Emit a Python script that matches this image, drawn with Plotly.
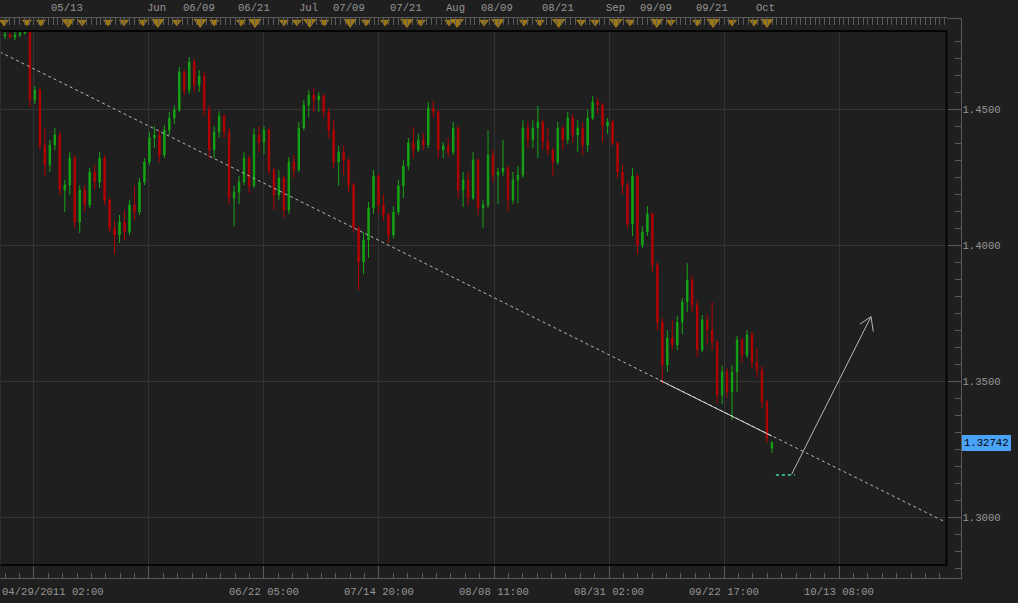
import plotly.graph_objects as go

# ---------------- data ----------------
opens = [
    1.4771, 1.4778, 1.4767, 1.4775, 1.4782, 1.4890, 1.4536, 1.4572, 1.4370, 1.4297,
    1.4370, 1.4407, 1.4205, 1.4223, 1.4322, 1.4087, 1.4205, 1.4150, 1.4271, 1.4234,
    1.4322, 1.4168, 1.4065, 1.4039, 1.4087, 1.4050, 1.4150, 1.4124, 1.4234, 1.4308,
    1.4396, 1.4407, 1.4333, 1.4425, 1.4469, 1.4499, 1.4639, 1.4572, 1.4675, 1.4591,
    1.4624, 1.4499, 1.4352, 1.4418, 1.4477, 1.4418, 1.4175, 1.4197, 1.4234, 1.4322,
    1.4220, 1.4407, 1.4381, 1.4425, 1.4278, 1.4186, 1.4249, 1.4131, 1.4308, 1.4278,
    1.4433, 1.4517, 1.4554, 1.4536, 1.4550, 1.4492, 1.4425, 1.4308, 1.4344, 1.4315,
    1.4223, 1.4065, 1.3940, 1.4021, 1.4139, 1.4256, 1.4150, 1.4113, 1.4039, 1.4124,
    1.4220, 1.4293, 1.4378, 1.4352, 1.4389, 1.4370, 1.4506, 1.4492, 1.4352, 1.4367,
    1.4344, 1.4433, 1.4205, 1.4242, 1.4175, 1.4315, 1.4139, 1.4150, 1.4333, 1.4260,
    1.4271, 1.4286, 1.4168, 1.4242, 1.4260, 1.4433, 1.4389, 1.4433, 1.4455, 1.4381,
    1.4352, 1.4308, 1.4433, 1.4389, 1.4469, 1.4407, 1.4433, 1.4370, 1.4469, 1.4528,
    1.4517, 1.4440, 1.4455, 1.4378, 1.4271, 1.4223, 1.4080, 1.4256, 1.4003, 1.4050,
    1.4117, 1.3929, 1.3719, 1.3561, 1.3661, 1.3635, 1.3719, 1.3793, 1.3874, 1.3782,
    1.3617, 1.3727, 1.3690, 1.3646, 1.3451, 1.3536, 1.3462, 1.3536, 1.3653, 1.3598,
    1.3672, 1.3572, 1.3543, 1.3425, 1.3256,
]
highs = [
    1.4786, 1.4782, 1.4786, 1.4793, 1.4935, 1.4905, 1.4587, 1.4580, 1.4433, 1.4389,
    1.4433, 1.4418, 1.4242, 1.4344, 1.4333, 1.4223, 1.4223, 1.4286, 1.4297, 1.4344,
    1.4333, 1.4175, 1.4094, 1.4113, 1.4131, 1.4168, 1.4220, 1.4249, 1.4322, 1.4418,
    1.4440, 1.4425, 1.4444, 1.4492, 1.4517, 1.4657, 1.4646, 1.4694, 1.4686, 1.4646,
    1.4639, 1.4517, 1.4440, 1.4495, 1.4484, 1.4433, 1.4220, 1.4256, 1.4344, 1.4330,
    1.4433, 1.4440, 1.4440, 1.4433, 1.4286, 1.4278, 1.4256, 1.4326, 1.4333, 1.4455,
    1.4536, 1.4572, 1.4580, 1.4565, 1.4558, 1.4506, 1.4462, 1.4367, 1.4367, 1.4322,
    1.4231, 1.4072, 1.4050, 1.4161, 1.4278, 1.4264, 1.4190, 1.4124, 1.4146, 1.4242,
    1.4315, 1.4396, 1.4436, 1.4411, 1.4414, 1.4528, 1.4532, 1.4499, 1.4381, 1.4396,
    1.4455, 1.4440, 1.4271, 1.4271, 1.4344, 1.4322, 1.4168, 1.4425, 1.4352, 1.4286,
    1.4389, 1.4293, 1.4271, 1.4293, 1.4462, 1.4455, 1.4462, 1.4514, 1.4462, 1.4433,
    1.4359, 1.4455, 1.4440, 1.4492, 1.4484, 1.4462, 1.4455, 1.4499, 1.4550, 1.4543,
    1.4525, 1.4469, 1.4462, 1.4385, 1.4300, 1.4234, 1.4286, 1.4264, 1.4072, 1.4146,
    1.4124, 1.3940, 1.3734, 1.3690, 1.3727, 1.3742, 1.3808, 1.3936, 1.3889, 1.3800,
    1.3745, 1.3749, 1.3793, 1.3653, 1.3558, 1.3550, 1.3561, 1.3668, 1.3661, 1.3690,
    1.3683, 1.3624, 1.3558, 1.3433, 1.3282,
]
lows = [
    1.4760, 1.4764, 1.4756, 1.4767, 1.4776, 1.4510, 1.4521, 1.4352, 1.4256, 1.4271,
    1.4352, 1.4186, 1.4124, 1.4186, 1.4065, 1.4047, 1.4124, 1.4139, 1.4205, 1.4212,
    1.4150, 1.4050, 1.3969, 1.4010, 1.4021, 1.4039, 1.4094, 1.4113, 1.4223, 1.4297,
    1.4359, 1.4308, 1.4322, 1.4407, 1.4447, 1.4492, 1.4554, 1.4558, 1.4565, 1.4565,
    1.4477, 1.4322, 1.4322, 1.4396, 1.4396, 1.4153, 1.4072, 1.4153, 1.4223, 1.4194,
    1.4212, 1.4344, 1.4337, 1.4260, 1.4131, 1.4168, 1.4102, 1.4117, 1.4249, 1.4271,
    1.4425, 1.4473, 1.4492, 1.4492, 1.4469, 1.4396, 1.4286, 1.4220, 1.4260, 1.4197,
    1.4050, 1.3837, 1.3896, 1.3955, 1.4117, 1.4117, 1.4091, 1.4010, 1.4028, 1.4113,
    1.4175, 1.4278, 1.4322, 1.4344, 1.4352, 1.4359, 1.4469, 1.4322, 1.4322, 1.4326,
    1.4333, 1.4175, 1.4142, 1.4146, 1.4168, 1.4113, 1.4065, 1.4139, 1.4234, 1.4153,
    1.4256, 1.4124, 1.4153, 1.4157, 1.4249, 1.4359, 1.4359, 1.4322, 1.4352, 1.4333,
    1.4256, 1.4297, 1.4352, 1.4374, 1.4378, 1.4344, 1.4333, 1.4344, 1.4462, 1.4484,
    1.4381, 1.4411, 1.4367, 1.4249, 1.4190, 1.4065, 1.4036, 1.3969, 1.3992, 1.4036,
    1.3903, 1.3690, 1.3495, 1.3536, 1.3617, 1.3617, 1.3675, 1.3756, 1.3756, 1.3591,
    1.3609, 1.3635, 1.3617, 1.3418, 1.3418, 1.3440, 1.3359, 1.3462, 1.3572, 1.3587,
    1.3550, 1.3514, 1.3403, 1.3275, 1.3238,
]
closes = [
    1.4778, 1.4767, 1.4775, 1.4782, 1.4890, 1.4536, 1.4572, 1.4370, 1.4297, 1.4370,
    1.4407, 1.4205, 1.4223, 1.4322, 1.4087, 1.4205, 1.4150, 1.4271, 1.4234, 1.4322,
    1.4168, 1.4065, 1.4039, 1.4087, 1.4050, 1.4150, 1.4124, 1.4234, 1.4308, 1.4396,
    1.4407, 1.4333, 1.4425, 1.4469, 1.4499, 1.4639, 1.4572, 1.4675, 1.4591, 1.4624,
    1.4499, 1.4352, 1.4418, 1.4477, 1.4418, 1.4175, 1.4197, 1.4234, 1.4322, 1.4220,
    1.4407, 1.4381, 1.4425, 1.4278, 1.4186, 1.4249, 1.4131, 1.4308, 1.4278, 1.4433,
    1.4517, 1.4554, 1.4536, 1.4550, 1.4492, 1.4425, 1.4308, 1.4344, 1.4315, 1.4223,
    1.4065, 1.3940, 1.4021, 1.4139, 1.4256, 1.4150, 1.4113, 1.4039, 1.4124, 1.4220,
    1.4293, 1.4378, 1.4352, 1.4389, 1.4370, 1.4506, 1.4492, 1.4352, 1.4367, 1.4344,
    1.4433, 1.4205, 1.4242, 1.4175, 1.4315, 1.4139, 1.4150, 1.4333, 1.4260, 1.4271,
    1.4286, 1.4168, 1.4242, 1.4260, 1.4433, 1.4389, 1.4433, 1.4455, 1.4381, 1.4352,
    1.4308, 1.4433, 1.4389, 1.4469, 1.4407, 1.4433, 1.4370, 1.4469, 1.4528, 1.4517,
    1.4440, 1.4455, 1.4378, 1.4271, 1.4223, 1.4080, 1.4256, 1.4003, 1.4050, 1.4117,
    1.3929, 1.3719, 1.3561, 1.3661, 1.3635, 1.3719, 1.3793, 1.3874, 1.3782, 1.3617,
    1.3727, 1.3690, 1.3646, 1.3451, 1.3536, 1.3462, 1.3536, 1.3653, 1.3598, 1.3672,
    1.3572, 1.3543, 1.3425, 1.3293, 1.32742,
]
bars = list(range(len(closes)))
last_price = 1.32742

# event markers on the top strip (bar positions) and which are the big ones
event_bars = [
    -0.2, 4.4, 7.2, 12.7, 15.5, 20.7, 23.9, 27.7, 30.7, 34.5,
    39.2, 42.0, 47.4, 50.2, 56.0, 58.6, 61.2, 64.1, 69.3, 72.5,
    76.3, 80.7, 83.5, 89.2, 90.8, 96.2, 99.0, 104.2, 107.4, 111.2,
    115.7, 118.5, 122.7, 125.5, 130.9, 133.7, 139.0, 142.2, 146.0, 150.4,
    153.0,
]
event_big = [
    0, 0, 0, 1, 0, 0, 0, 0, 1, 0,
    1, 0, 0, 1, 0, 0, 1, 0, 1, 0,
    0, 1, 0, 0, 1, 0, 1, 0, 0, 1,
    0, 0, 1, 0, 1, 0, 0, 1, 0, 0,
    1,
]

top_labels = ["05/13", "Jun", "06/09", "06/21", "Jul", "07/09", "07/21",
              "Aug", "08/09", "08/21", "Sep", "09/09", "09/21", "Oct"]
top_label_bars = [12.45, 30.5, 39.0, 50.0, 61.0, 69.1, 80.5,
                  90.4, 98.8, 111.0, 122.5, 130.7, 142.0, 152.8]

grid_bars = [5.8, 28.9, 52.0, 75.1, 98.2, 121.3, 144.4, 167.5]
grid_labels = ["", "", "06/22 05:00", "07/14 20:00", "08/08 11:00",
               "08/31 02:00", "09/22 17:00", "10/13 08:00"]
first_label = "04/29/2011 02:00"

price_ticks = [1.30, 1.35, 1.40, 1.45]

# drawn objects (bar position, price)
trend_bars, trend_prices = [-1.004, 189.16], [1.4712, 1.2981]
seg_bars, seg_prices = [131.5, 154.0], [1.3505, 1.3300]
arrow_bars, arrow_prices = [157.97, 173.9], [1.3160, 1.3739]
head_bars, head_prices = [171.7, 173.9, 174.36], [1.3712, 1.3739, 1.3684]
target_bars, target_prices = [154.8, 158.6], [1.3157, 1.3157]

# ---------------- layout geometry ----------------
W, H = 1018, 603
def px(x):
    return x / W
def py(y):
    return 1 - y / H

X_RANGE = [-1.004, 189.16]
Y_RANGE = [1.27783, 1.47857]
BG = "#1f1f1f"
GRID = "#333333"
AXC = "#5a5a5a"
TXT = "#969696"
GREEN = "#14a514"
RED = "#b40000"
FONT = dict(family="Liberation Mono, DejaVu Sans Mono, monospace", size=10.6, color=TXT)

fig = go.Figure()

fig.add_trace(go.Candlestick(
    x=bars, open=opens, high=highs, low=lows, close=closes,
    increasing=dict(line=dict(color=GREEN, width=1), fillcolor=GREEN),
    decreasing=dict(line=dict(color=RED, width=1), fillcolor=RED),
    whiskerwidth=0, hoverinfo="skip", showlegend=False,
))

fig.add_trace(go.Scatter(x=trend_bars, y=trend_prices, mode="lines",
                         line=dict(color="#b8b8b8", width=1, dash="3px,3px"),
                         hoverinfo="skip"))
fig.add_trace(go.Scatter(x=seg_bars, y=seg_prices, mode="lines",
                         line=dict(color="#d6d6d6", width=1), hoverinfo="skip"))
fig.add_trace(go.Scatter(x=arrow_bars, y=arrow_prices, mode="lines",
                         line=dict(color="#b8b8b8", width=1), hoverinfo="skip"))
fig.add_trace(go.Scatter(x=head_bars, y=head_prices, mode="lines",
                         line=dict(color="#b8b8b8", width=1), hoverinfo="skip"))
fig.add_trace(go.Scatter(x=target_bars, y=target_prices, mode="lines",
                         line=dict(color="#35b07c", width=2, dash="3px,3px"),
                         hoverinfo="skip"))

fig.add_trace(go.Scatter(
    x=event_bars, y=[0.70] * len(event_bars), xaxis="x3", yaxis="y2",
    mode="markers",
    marker=dict(symbol="triangle-down", color="#cf9d0f",
                size=[12 if b else 9 for b in event_big], line=dict(width=0)),
    hoverinfo="skip"))

annotations = []
for lab, b in zip(top_labels, top_label_bars):
    annotations.append(dict(x=b, xref="x", y=py(8), yref="paper", text=lab,
                            showarrow=False, font=FONT, xanchor="center", yanchor="middle"))
for lab, b in zip(grid_labels, grid_bars):
    if lab:
        annotations.append(dict(x=b, xref="x", y=py(592), yref="paper", text=lab,
                                showarrow=False, font=FONT, xanchor="center", yanchor="middle"))
annotations.append(dict(x=0, xref="paper", y=py(592), yref="paper", text=first_label,
                        showarrow=False, font=FONT, xanchor="left", yanchor="middle"))
annotations.append(dict(x=px(962), xref="paper", y=last_price, yref="y",
                        text=f"{last_price:.5f}", showarrow=False,
                        font=dict(family=FONT["family"], size=10.6, color="#000000"),
                        bgcolor="#4aa3f7", borderpad=2, borderwidth=0,
                        xanchor="left", yanchor="middle"))

shapes = [
    dict(type="line", xref="paper", yref="paper", x0=0, x1=px(947), y0=py(31), y1=py(31),
         line=dict(color="#050505", width=2)),
    dict(type="line", xref="paper", yref="paper", x0=0, x1=px(947), y0=py(565), y1=py(565),
         line=dict(color="#050505", width=2)),
    dict(type="line", xref="paper", yref="paper", x0=px(946.5), x1=px(946.5), y0=py(31), y1=py(565),
         line=dict(color="#050505", width=2)),
    dict(type="line", xref="paper", yref="paper", x0=px(961.5), x1=px(961.5), y0=py(18), y1=py(578),
         line=dict(color=AXC, width=1)),
    dict(type="line", xref="paper", yref="paper", x0=px(947), x1=px(962), y0=py(578.5), y1=py(578.5),
         line=dict(color=AXC, width=1)),
    dict(type="line", xref="paper", yref="paper", x0=px(947), x1=px(962), y0=py(18.5), y1=py(18.5),
         line=dict(color=AXC, width=1)),
    dict(type="line", xref="paper", yref="paper", x0=px(0.5), x1=px(0.5), y0=py(31), y1=py(565),
         line=dict(color="#2c2c2c", width=1)),
]

fig.update_layout(
    width=W, height=H,
    margin=dict(l=0, r=0, t=0, b=0, pad=0),
    paper_bgcolor=BG, plot_bgcolor=BG,
    showlegend=False, hovermode=False,
    boxgap=0.6,
    font=FONT,
    annotations=annotations,
    shapes=shapes,
    xaxis=dict(
        domain=[0, px(947)], range=X_RANGE, anchor="y",
        tickmode="array", tickvals=grid_bars, showticklabels=False,
        ticks="inside", ticklen=12, tickcolor=AXC, tickwidth=1,
        showline=True, linecolor=AXC, linewidth=1,
        showgrid=True, gridcolor=GRID, gridwidth=1, zeroline=False,
        minor=dict(ticks="inside", ticklen=5, tickcolor=AXC, tickmode="linear",
                   tick0=grid_bars[0], dtick=(grid_bars[1] - grid_bars[0]) / 8, showgrid=False),
        rangeslider=dict(visible=False), fixedrange=True,
    ),
    yaxis=dict(
        domain=[py(578), py(32)], range=Y_RANGE,
        side="right", anchor="free", position=px(961.5),
        tickmode="array", tickvals=price_ticks, ticktext=[f"{v:.4f}" for v in price_ticks],
        ticks="inside", ticklen=14, tickcolor=AXC, tickwidth=1,
        tickfont=FONT, showline=False,
        showgrid=True, gridcolor=GRID, gridwidth=1, zeroline=False,
        minor=dict(ticks="inside", ticklen=7, tickcolor=AXC, tickmode="linear",
                   tick0=1.30, dtick=0.00625, showgrid=False),
        fixedrange=True,
    ),
    xaxis3=dict(
        domain=[0, px(947)], range=X_RANGE, matches="x", anchor="y2", side="top",
        showticklabels=False, showgrid=False, zeroline=False,
        showline=True, linecolor=AXC, linewidth=1,
        ticks="inside", ticklen=7, tickcolor=AXC, tickmode="linear",
        tick0=grid_bars[0], dtick=(grid_bars[1] - grid_bars[0]) / 24,
        fixedrange=True,
    ),
    yaxis2=dict(
        domain=[py(31), py(18)], range=[0, 1], anchor="x3",
        showticklabels=False, showgrid=False, zeroline=False, showline=False,
        ticks="", fixedrange=True,
    ),
)

fig.write_html(
    "out.html",
    config={"displayModeBar": False, "staticPlot": True},
    post_script="document.body.style.margin='0';document.body.style.padding='0';"
                "document.body.style.background='" + BG + "';",
)
